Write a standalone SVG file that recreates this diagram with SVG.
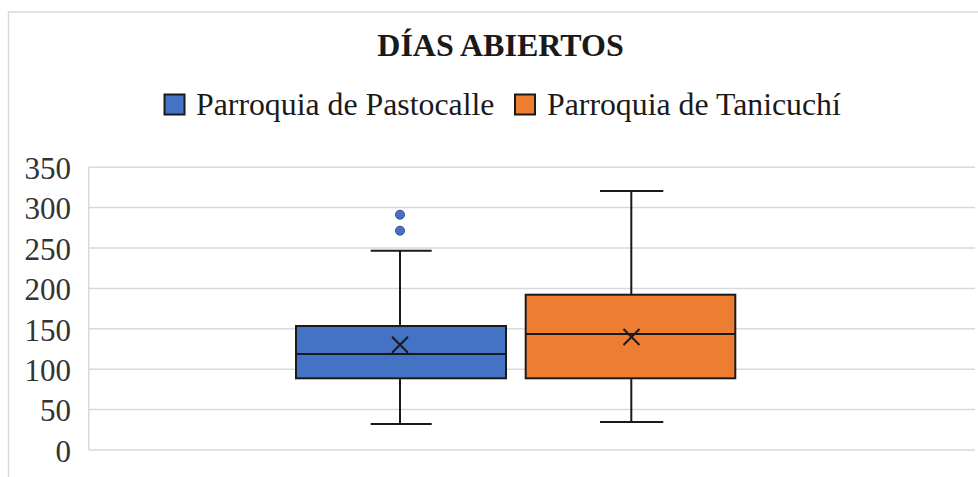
<svg xmlns="http://www.w3.org/2000/svg" width="978" height="477" viewBox="0 0 978 477">
<style>
.frame{fill:none;stroke:#d9d9d9;stroke-width:1.5}
.grid{stroke:#d9d9d9;stroke-width:1.5;fill:none}
.ax{font-family:"Liberation Serif","Times New Roman",serif;font-size:31px;fill:#333;text-anchor:end}
.title{font-family:"Liberation Serif","Times New Roman",serif;font-size:32px;font-weight:bold;fill:#1a1a1a;text-anchor:middle}
.leg{font-family:"Liberation Serif","Times New Roman",serif;font-size:31.8px;fill:#1a1a1a}
.box{stroke:#1a1a1a;stroke-width:2}
.wh{stroke:#1a1a1a;stroke-width:2;fill:none}
.blue{fill:#4472c4}
.orange{fill:#ed7d31}
</style>
<rect width="978" height="477" fill="#ffffff"/>
<path class="frame" d="M8.5,477 V12 H978"/>
<g id="axes">
<path class="grid" d="M88.7,167.2 V450"/>
<path class="grid" d="M88.7,167.2 H975 M88.7,207.6 H975 M88.7,248 H975 M88.7,288.4 H975 M88.7,328.8 H975 M88.7,369.2 H975 M88.7,409.6 H975 M88.7,450 H975"/>
<text class="ax" x="71" y="179">350</text>
<text class="ax" x="71" y="219.4">300</text>
<text class="ax" x="71" y="259.8">250</text>
<text class="ax" x="71" y="300.2">200</text>
<text class="ax" x="71" y="340.6">150</text>
<text class="ax" x="71" y="381">100</text>
<text class="ax" x="71" y="421.4">50</text>
<text class="ax" x="71" y="461.8">0</text>
</g>
<g id="title"><text class="title" x="500.5" y="56">DÍAS ABIERTOS</text></g>
<g id="legend">
<rect class="blue box" x="164.5" y="94.5" width="20" height="20" stroke-width="1.5"/>
<text class="leg" x="196" y="115">Parroquia de Pastocalle</text>
<rect class="orange box" x="515" y="94.5" width="20" height="20" stroke-width="1.5"/>
<text class="leg" x="547" y="115">Parroquia de Tanicuchí</text>
</g>
<g id="connectors">
<path class="wh" d="M400,326 V250.7 M370.7,250.7 H431.7 M400,378.3 V424 M370.7,424 H431.7"/>
<path class="wh" d="M631.3,294.7 V191 M600,191 H663.3 M631.3,378.3 V422 M600,422 H663.3"/>
</g>
<g id="pastocalle">
<rect class="blue box" x="296" y="326" width="210" height="52.3"/>
<path class="wh" d="M296,354 H506"/>
<path class="wh" d="M392,336.7 L408,352.7 M408,336.7 L392,352.7"/>
<circle class="blue" cx="400" cy="214.7" r="4.5" stroke="#2f4f8a" stroke-width="1"/>
<circle class="blue" cx="400" cy="230.7" r="4.5" stroke="#2f4f8a" stroke-width="1"/>
</g>
<g id="tanicuchi">
<rect class="orange box" x="525.7" y="294.7" width="209.6" height="83.6"/>
<path class="wh" d="M525.7,334 H735.3"/>
<path class="wh" d="M623.5,329 L639.5,345 M639.5,329 L623.5,345"/>
</g>
</svg>
